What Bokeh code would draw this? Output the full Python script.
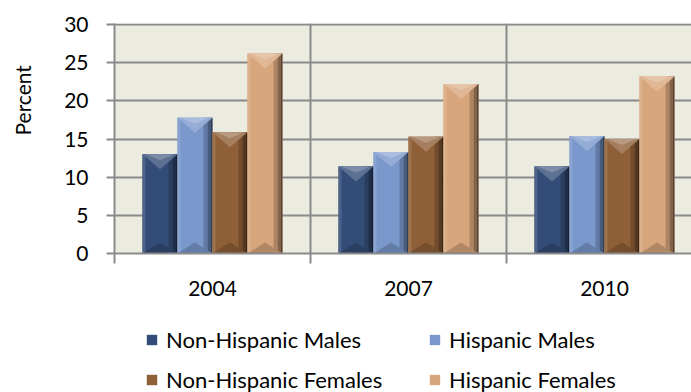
from bokeh.plotting import figure
from bokeh.layouts import column
from bokeh.models import (Range1d, FixedTicker, Legend, LegendItem, Title,
                          ColumnDataSource, LinearAxis)
from bokeh.embed import file_html
from bokeh.resources import INLINE

# ---- data -------------------------------------------------------------
years = ["2004", "2007", "2010"]
series_names = ["Non-Hispanic Males", "Hispanic Males",
                "Non-Hispanic Females", "Hispanic Females"]
non_hispanic_males = [13.0, 11.4, 11.4]
hispanic_males = [17.8, 13.3, 15.4]
non_hispanic_females = [15.9, 15.3, 15.0]
hispanic_females = [26.2, 22.2, 23.2]
series_colors = ["#344d78", "#7a98cc", "#8f5f37", "#d8a67c"]
y_ticks = [0, 5, 10, 15, 20, 25, 30]

series_values = [non_hispanic_males, hispanic_males,
                 non_hispanic_females, hispanic_females]

# ---- geometry ---------------------------------------------------------
W = 691
H_CHART, H_LEGEND = 310, 82
LEFT, TOP, BOTTOM = 114, 23, 57
frame_w = W - LEFT
frame_h = H_CHART - TOP - BOTTOM
slot_px = 196                      # width of one year slot
x_end = frame_w / slot_px
y_end = 30 * frame_h / (frame_h - 1)
px_x = x_end / frame_w             # data units per pixel
px_y = y_end / frame_h

GRID = "#8a8a8a"
FONT = "Lato"
FSIZE = "21px"

p = figure(width=W, height=H_CHART, output_backend="svg",
           toolbar_location=None,
           x_range=Range1d(0, x_end), y_range=Range1d(0, y_end),
           min_border_left=LEFT, min_border_top=TOP,
           min_border_bottom=BOTTOM, min_border_right=0)
p.background_fill_color = "#ecebe0"
p.border_fill_color = "white"
p.outline_line_color = None


def mix(c, t, amount):
    c = c.lstrip("#")
    r, g, b = int(c[0:2], 16), int(c[2:4], 16), int(c[4:6], 16)
    tr, tg, tb = t
    r = round(r + (tr - r) * amount)
    g = round(g + (tg - g) * amount)
    b = round(b + (tb - b) * amount)
    return "#%02x%02x%02x" % (r, g, b)


WHITE, BLACK = (255, 255, 255), (0, 0, 0)
bar_w = 35 * px_x
n_series = len(series_values)

bar_sources = []
tri_xs, tri_ys, tri_c = [], [], []
for si, (vals, col) in enumerate(zip(series_values, series_colors)):
    offset = (si - (n_series - 1) / 2) * bar_w
    centers = [i + 0.5 + offset for i in range(len(years))]
    lefts = [c - bar_w / 2 for c in centers]
    rights = [c + bar_w / 2 for c in centers]
    src = ColumnDataSource(dict(left=lefts, right=rights, top=vals,
                                bottom=[0] * len(vals)))
    bar_sources.append(src)
    p.quad(left="left", right="right", top="top", bottom="bottom",
           source=src, fill_color=col, line_color=None)

    # bevel: shaded right edge, lit left edge
    for (a, b, amt) in [(9, 5, 0.2), (5, 2, 0.4), (2, 0, 0.6)]:
        p.quad(left=[x - a * px_x for x in rights],
               right=[x - b * px_x for x in rights],
               top=vals, bottom=[0] * len(vals),
               fill_color=mix(col, BLACK, amt), line_color=None)
    p.quad(left=lefts, right=[x + 3 * px_x for x in lefts],
           top=vals, bottom=[0] * len(vals),
           fill_color=mix(col, WHITE, 0.12), line_color=None)

    # bevel: top and bottom facets
    for c, l, rr, v in zip(centers, lefts, rights, vals):
        tri_xs.append([l, rr, c])
        tri_ys.append([v, v, v - 15 * px_y])
        tri_c.append(mix(col, WHITE, 0.2))
        tri_xs.append([l + 3 * px_x, rr - 3 * px_x, c])
        tri_ys.append([v, v, v - 6 * px_y])
        tri_c.append(mix(col, WHITE, 0.36))
        tri_xs.append([l, rr, c])
        tri_ys.append([0, 0, 11 * px_y])
        tri_c.append(mix(col, BLACK, 0.18))

p.patches(xs="xs", ys="ys", fill_color="c", line_color=None,
          source=ColumnDataSource(dict(xs=tri_xs, ys=tri_ys, c=tri_c)))

# ---- axes & grid ------------------------------------------------------
xt = FixedTicker(ticks=[i + 0.5 for i in range(len(years))],
                 minor_ticks=list(range(len(years) + 1)))
p.xaxis.ticker = xt
p.xaxis.major_label_overrides = {i + 0.5: y for i, y in enumerate(years)}
p.xaxis.major_tick_line_color = None
p.xaxis.minor_tick_out = 10
p.xaxis.minor_tick_in = 0
p.xaxis.minor_tick_line_color = GRID
p.xaxis.minor_tick_line_width = 2
p.xaxis.axis_line_color = GRID
p.xaxis.axis_line_width = 2
p.xaxis.major_label_standoff = 17

p.yaxis.ticker = FixedTicker(ticks=y_ticks, minor_ticks=[])
p.yaxis.major_tick_out = 8
p.yaxis.major_tick_in = 0
p.yaxis.major_tick_line_color = GRID
p.yaxis.major_tick_line_width = 2
p.yaxis.axis_line_color = GRID
p.yaxis.axis_line_width = 2
p.yaxis.major_label_standoff = 18

for ax in (p.xaxis, p.yaxis):
    ax.major_label_text_font = FONT
    ax.major_label_text_font_size = FSIZE
    ax.major_label_text_color = "black"

p.xgrid.ticker = FixedTicker(ticks=list(range(len(years) + 1)))
p.ygrid.ticker = FixedTicker(ticks=y_ticks)
for g in (p.xgrid, p.ygrid):
    g.grid_line_color = GRID
    g.grid_line_width = 2

# blank gutter between the tick labels and the axis title
gutter = LinearAxis(ticker=FixedTicker(ticks=[0], minor_ticks=[]),
                    major_tick_out=25, major_tick_in=0,
                    major_tick_line_color=None, minor_tick_line_color=None,
                    axis_line_color=None, major_label_standoff=0,
                    major_label_overrides={0: ""})
p.add_layout(gutter, "left")

# ---- y title ----------------------------------------------------------
title_kw = dict(text="Percent", align="left", offset=118,
                vertical_align="top",
                text_font=FONT, text_font_size=FSIZE,
                text_font_style="normal", text_color="black")
if "standoff" in Title.properties():
    title_kw["standoff"] = 0
p.add_layout(Title(**title_kw), "left")

# ---- legend strip -----------------------------------------------------
# swatch renderers share the bar sources; the strip's ranges keep the
# bars themselves out of view so only the legend is drawn here
q = figure(width=W, height=H_LEGEND, output_backend="svg",
           toolbar_location=None, x_axis_type=None, y_axis_type=None,
           x_range=Range1d(100, 101), y_range=Range1d(100, 101),
           min_border=0, outline_line_color=None)
q.grid.visible = False
q.border_fill_color = "white"
q.background_fill_color = "white"

swatches = {}
for name, col, src in zip(series_names, series_colors, bar_sources):
    swatches[name] = q.quad(left="left", right="right", top="top",
                            bottom="bottom", source=src,
                            fill_color=col, line_color=None)

# two columns, filled column by column
order = [0, 2, 1, 3]
items = [LegendItem(label=series_names[i],
                    renderers=[swatches[series_names[i]]]) for i in order]

legend = Legend(items=items, ncols=2,
                location=(31, -1),
                glyph_width=13, glyph_height=13, label_standoff=8,
                label_width=249, label_height=24, spacing=13,
                padding=0, margin=0, border_line_color=None,
                background_fill_alpha=0,
                label_text_font=FONT, label_text_font_size="22px",
                label_text_color="black")
q.add_layout(legend)

layout = column(p, q, spacing=0)
open("out.html", "w").write(file_html(layout, INLINE))
